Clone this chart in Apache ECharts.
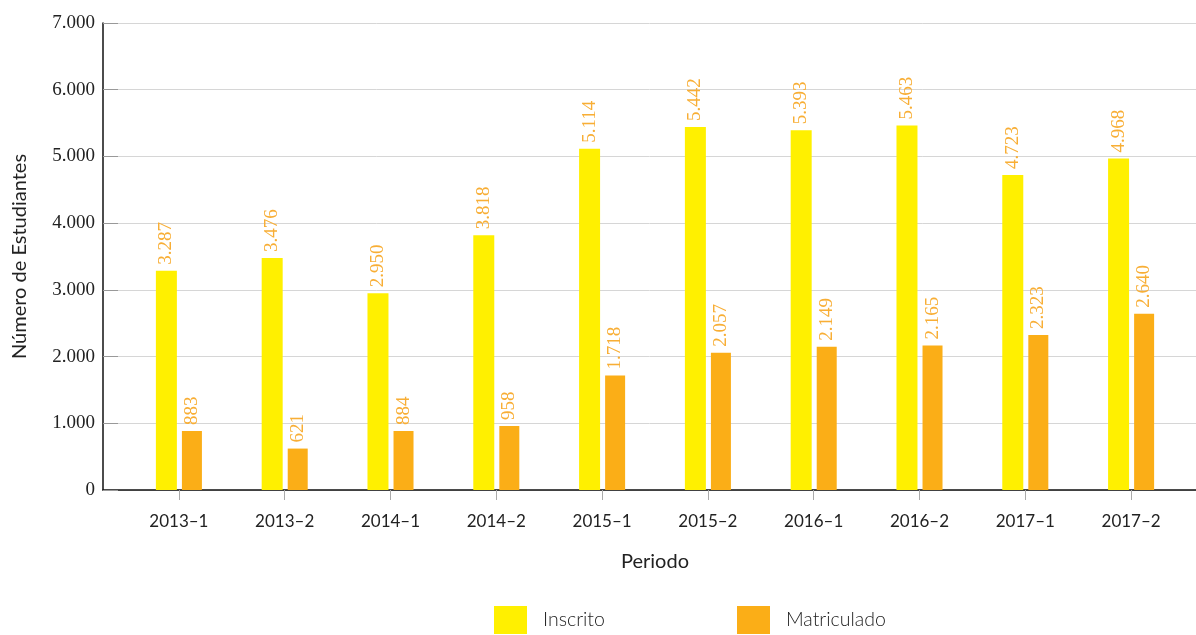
<!DOCTYPE html>
<html>
<head>
<meta charset="utf-8">
<script src="https://cdn.jsdelivr.net/npm/echarts@6/dist/echarts.min.js"></script>
<style>html,body{margin:0;padding:0;background:#fff}#c{width:1196px;height:635px}</style>
</head>
<body>
<div id="c"></div>
<script>
var categories = ['2013–1','2013–2','2014–1','2014–2','2015–1','2015–2','2016–1','2016–2','2017–1','2017–2'];
var inscrito = [3287, 3476, 2950, 3818, 5114, 5442, 5393, 5463, 4723, 4968];
var matriculado = [883, 621, 884, 958, 1718, 2057, 2149, 2165, 2323, 2640];
var yTicks = { min: 0, max: 7000, interval: 1000 };

function fmt(v) {
  return String(v).replace(/\B(?=(\d{3})+(?!\d))/g, '.');
}
var YELLOW = '#FFF000', ORANGE = '#FBAE17', LABEL = '#F8AE35';
var serif = 'Liberation Serif';
var sans = 'Lato';

var chart = echarts.init(document.getElementById('c'), null, { renderer: 'canvas' });
var labelCfg = {
  show: true, position: 'top', rotate: 90, align: 'left', verticalAlign: 'middle',
  distance: 6, color: LABEL, fontFamily: serif, fontSize: 19,
  formatter: function (p) { return fmt(p.value); }
};
chart.setOption({
  animation: false,
  backgroundColor: '#fff',
  grid: [
    { left: 103, right: 0, top: 23, bottom: 145, containLabel: false, outerBoundsMode: 'none' },
    { left: 126, right: 12, top: 23, bottom: 145, containLabel: false, outerBoundsMode: 'none' }
  ],
  xAxis: [
    { gridIndex: 0, type: 'value', min: 0, max: 1, axisLine: { show: true, lineStyle: { color: '#111', width: 1.5 } },
      axisTick: { show: false }, axisLabel: { show: false }, splitLine: { show: false } },
    { gridIndex: 1, type: 'category', data: categories, axisLine: { show: false },
      axisTick: { show: true, alignWithLabel: true, length: 10, lineStyle: { color: '#aaa' } },
      axisLabel: { margin: 23, color: '#222', fontFamily: sans, fontSize: 17 },
      name: 'Periodo', nameLocation: 'middle', nameGap: 62,
      nameTextStyle: { color: '#222', fontFamily: sans, fontSize: 20 } }
  ],
  yAxis: [
    { gridIndex: 0, type: 'value', min: yTicks.min, max: yTicks.max, interval: yTicks.interval,
      axisLine: { show: true, lineStyle: { color: '#111', width: 1.5 } },
      axisTick: { show: true, inside: true, length: 15, lineStyle: { color: '#999' } },
      splitLine: { show: true, lineStyle: { color: '#d6d6d6', width: 1 } },
      axisLabel: { margin: 8, color: '#222', fontFamily: serif, fontSize: 19, formatter: function (v) { return fmt(v); } },
      name: 'Número de Estudiantes', nameLocation: 'middle', nameGap: 73,
      nameTextStyle: { color: '#222', fontFamily: sans, fontSize: 20 } },
    { gridIndex: 1, type: 'value', min: yTicks.min, max: yTicks.max, interval: yTicks.interval, show: false,
      splitLine: { show: false } }
  ],
  legend: [
    { data: ['Inscrito'], left: 494, top: 606, padding: 0, itemWidth: 33, itemHeight: 28, icon: 'rect',
      textStyle: { color: '#222', fontFamily: sans, fontSize: 19.5, fontWeight: 300, padding: [0, 0, 0, 11] } },
    { data: ['Matriculado'], left: 737, top: 606, padding: 0, itemWidth: 33, itemHeight: 28, icon: 'rect',
      textStyle: { color: '#222', fontFamily: sans, fontSize: 19.5, fontWeight: 300, padding: [0, 0, 0, 11] } }
  ],
  series: [
    { name: 'Inscrito', type: 'bar', xAxisIndex: 1, yAxisIndex: 1, data: inscrito, barWidth: 21, barGap: '24%',
      itemStyle: { color: YELLOW }, label: labelCfg },
    { name: 'Matriculado', type: 'bar', xAxisIndex: 1, yAxisIndex: 1, data: matriculado, barWidth: 20, barGap: '24%',
      itemStyle: { color: ORANGE }, label: labelCfg }
  ]
});
</script>
</body>
</html>
